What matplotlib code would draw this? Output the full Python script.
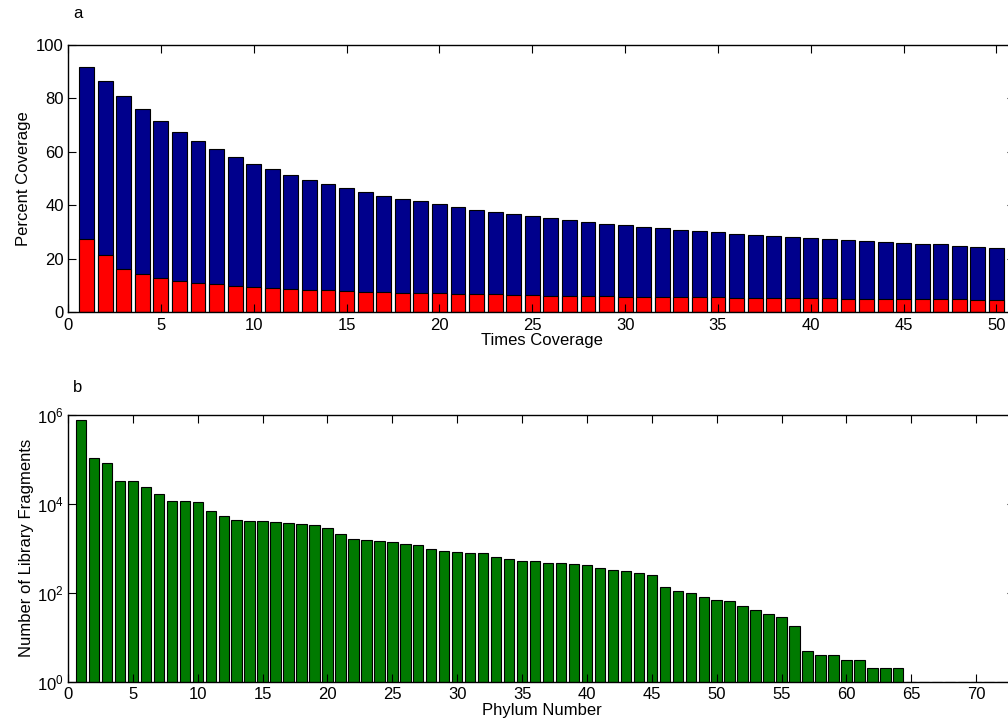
import matplotlib.pyplot as plt
from matplotlib.ticker import NullLocator

plt.rcParams['font.family'] = ['Liberation Sans', 'DejaVu Sans']
plt.rcParams['mathtext.default'] = 'regular'
plt.rcParams['font.size'] = 12

# percent of genome covered at each times-coverage level
times = list(range(1, 51))
pct_total = [91.6, 86.5, 80.8, 75.9, 71.4, 67.4, 63.9, 60.9, 58.1, 55.6,
             53.4, 51.5, 49.6, 48.0, 46.3, 44.9, 43.6, 42.5, 41.4, 40.3,
             39.3, 38.4, 37.6, 36.6, 35.9, 35.1, 34.5, 33.9, 33.1, 32.5,
             31.9, 31.4, 30.9, 30.5, 29.9, 29.4, 29.0, 28.5, 28.0, 27.6,
             27.3, 26.9, 26.5, 26.1, 25.8, 25.5, 25.3, 24.9, 24.5, 24.1]
pct_subset = [27.4, 21.5, 16.1, 14.3, 12.9, 11.8, 11.0, 10.5, 9.9, 9.5,
              9.1, 8.8, 8.4, 8.1, 7.9, 7.5, 7.4, 7.3, 7.1, 7.1,
              6.8, 6.6, 6.7, 6.4, 6.3, 6.1, 6.0, 6.0, 5.9, 5.8,
              5.6, 5.6, 5.6, 5.6, 5.5, 5.4, 5.4, 5.4, 5.4, 5.3,
              5.2, 5.0, 5.0, 4.9, 4.9, 4.9, 4.9, 4.8, 4.6, 4.6]

# library fragments per phylum
phyla = list(range(1, 73))
fragments = [770000, 108000, 82000, 32700, 32700, 23500, 17000, 11600, 11400, 10800,
             7100, 5260, 4270, 4050, 4050, 3980, 3800, 3590, 3350, 2820,
             2100, 1620, 1540, 1460, 1370, 1250, 1170, 985, 890, 813,
             795, 785, 627, 586, 527, 520, 467, 460, 437, 430,
             355, 332, 314, 274, 247, 137, 108, 100, 79, 69,
             64, 50, 40, 34, 29, 18, 5, 4, 4, 3,
             3, 2, 2, 2, 1, 1, 1, 1, 1, 1,
             1, 1]

fig = plt.figure(figsize=(10.08, 7.19), dpi=100)
ax1 = fig.add_axes([0.0675, 0.566, 0.9395, 0.3714])
ax2 = fig.add_axes([0.0675, 0.0519, 0.9395, 0.3709])

ax1.bar(times, pct_total, width=0.8, color='#00008c', edgecolor='black', linewidth=0.8)
ax1.bar(times, pct_subset, width=0.8, color='#ff0000', edgecolor='black', linewidth=0.8)
ax1.set_xlim(0, 51)
ax1.set_ylim(0, 100)
ax1.set_xticks(range(0, 51, 5))
ax1.set_yticks(range(0, 101, 20))
ax1.set_xlabel('Times Coverage', labelpad=0.5)
ax1.set_ylabel('Percent Coverage', labelpad=4)

ax2.bar(phyla, fragments, width=0.8, color='#007a00', edgecolor='black', linewidth=0.8, log=True)
ax2.set_xlim(0, 73)
ax2.set_ylim(1, 1e6)
ax2.set_xticks(range(0, 71, 5))
ax2.set_yticks([1, 1e2, 1e4, 1e6])
ax2.yaxis.set_minor_locator(NullLocator())
ax2.set_xlabel('Phylum Number', labelpad=0.5)
ax2.set_ylabel('Number of Library Fragments', labelpad=2)

for ax in (ax1, ax2):
    ax.tick_params(direction='in', top=True, right=True, length=6, width=0.8, pad=4)
    ax.tick_params(axis='y', pad=3)
    for sp in ax.spines.values():
        sp.set_linewidth(1.0)

fig.text(73 / 1008, 1 - 18 / 719, 'a', va='baseline')
fig.text(73 / 1008, 1 - 392 / 719, 'b', va='baseline')

fig.savefig('out.png', dpi=100)
